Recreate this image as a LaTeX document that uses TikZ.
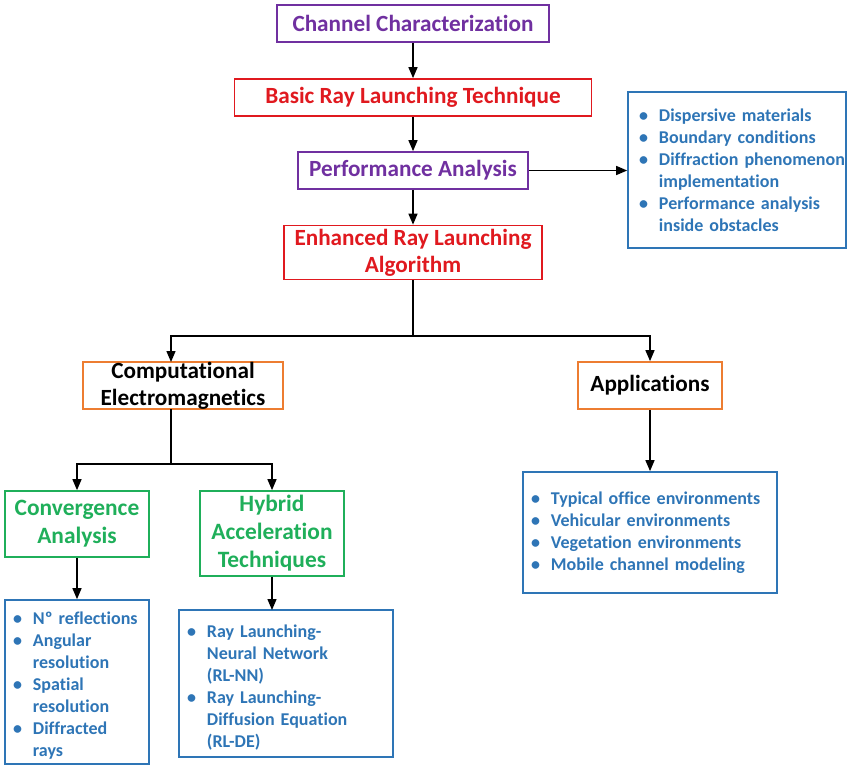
\documentclass[tikz,border=0pt]{standalone}
\usepackage{fontspec}
\setmainfont{Carlito}[Ligatures=NoCommon]
\usetikzlibrary{arrows.meta}
\definecolor{cpurple}{HTML}{7030A0}
\definecolor{cred}{HTML}{E0191F}
\definecolor{corange}{HTML}{ED7D31}
\definecolor{cgreen}{HTML}{1FAF5A}
\definecolor{cblue}{HTML}{2E75B6}
% bullet list; the optional argument nudges the list vertically inside its box
\newcommand\bitems[2][0pt]{\vspace*{#1}\begin{tabular}{@{}l@{\hspace{11pt}}l@{}}#2\end{tabular}}
\begin{document}
\begin{tikzpicture}[x=1pt,y=-1pt,
  box/.style={draw, line width=1.7pt, inner sep=0pt, align=center,
    font=\bfseries\fontsize{23.2}{27}\selectfont},
  gbox/.style={box, draw=cgreen, text=cgreen, font=\bfseries\fontsize{23.4}{28}\selectfont},
  listbox/.style={draw=cblue, text=cblue, line width=1.7pt, inner sep=0pt, align=left,
    font=\bfseries\fontsize{18}{22}\selectfont},
  arr/.style={line width=1.4pt, -{Triangle[length=11pt,width=9pt]}},
  plain/.style={line width=1.4pt}]
\useasboundingbox (0,0) rectangle (848,766);

% main chain
\node[box, draw=cpurple, text=cpurple, minimum width=272pt, minimum height=37pt] (cc) at (413,23.5) {Channel Characterization};
\node[box, draw=cred, text=cred, minimum width=357pt, minimum height=37pt] (brl) at (413,97.5) {Basic Ray Launching Technique};
\node[box, draw=cpurple, text=cpurple, minimum width=230pt, minimum height=37pt] (pa) at (413,170.5) {Performance Analysis};
\node[box, draw=cred, text=cred, minimum width=258pt, minimum height=54pt] (era) at (413,252.5) {Enhanced Ray Launching\\Algorithm};

\node[listbox, minimum width=218pt, minimum height=156pt, text width=196pt] (pal) at (737,170) {\bitems[-4pt]{
  \textbullet & Dispersive materials\\
  \textbullet & Boundary conditions\\
  \textbullet & Diffraction phenomenon\\
   & implementation\\
  \textbullet & Performance analysis\\
   & inside obstacles}};

% second level
\node[box, draw=corange, text=black, minimum width=200pt, minimum height=47pt] (ce) at (183,385.5) {Computational\\Electromagnetics};
\node[box, draw=corange, text=black, minimum width=144pt, minimum height=47pt] (app) at (650,385.5) {Applications};

\node[listbox, minimum width=254pt, minimum height=121pt, text width=238pt] (appl) at (650,532.5) {\bitems[-2pt]{
  \textbullet & Typical office environments\\
  \textbullet & Vehicular environments\\
  \textbullet & Vegetation environments\\
  \textbullet & Mobile channel modeling}};

% third level
\node[gbox, minimum width=144pt, minimum height=66pt] (conv) at (77,524) {Convergence\\Analysis};
\node[gbox, minimum width=144pt, minimum height=85pt] (hyb) at (272,533.5) {Hybrid\\Acceleration\\Techniques};

\node[listbox, minimum width=144pt, minimum height=164pt, text width=128pt] (convl) at (77,682) {\bitems[-8pt]{
  \textbullet & Nº reflections\\
  \textbullet & Angular\\
   & resolution\\
  \textbullet & Spatial\\
   & resolution\\
  \textbullet & Diffracted\\
   & rays}};
\node[listbox, minimum width=214pt, minimum height=147pt, text width=198pt] (hybl) at (286,683.5) {\bitems[-10pt]{
  \textbullet & Ray Launching-\\
   & Neural Network\\
   & (RL-NN)\\
  \textbullet & Ray Launching-\\
   & Diffusion Equation\\
   & (RL-DE)}};

% connector points
\coordinate (j1) at (413,336);
\coordinate (ceIn) at (171,362);
\coordinate (ceOut) at (171,409);
\coordinate (j2) at (171,464);
\coordinate (hyblIn) at (272,610);

% connectors
\draw[arr] (cc) -- (brl);
\draw[arr] (brl) -- (pa);
\draw[arr] (pa) -- (era);
\draw[arr] (pa.east) -- (pal.west |- pa.east);
\draw[plain] (era.south) -- (j1);
\draw[arr] (j1) -| (ceIn);
\draw[arr] (j1) -| (app.north);
\draw[arr] (app.south) -- (appl.north);
\draw[plain] (ceOut) -- (j2);
\draw[arr] (j2) -| (conv.north);
\draw[arr] (j2) -| (hyb.north);
\draw[arr] (conv.south) -- (convl.north);
\draw[arr] (hyb.south) -- (hyblIn);
\end{tikzpicture}
\end{document}
